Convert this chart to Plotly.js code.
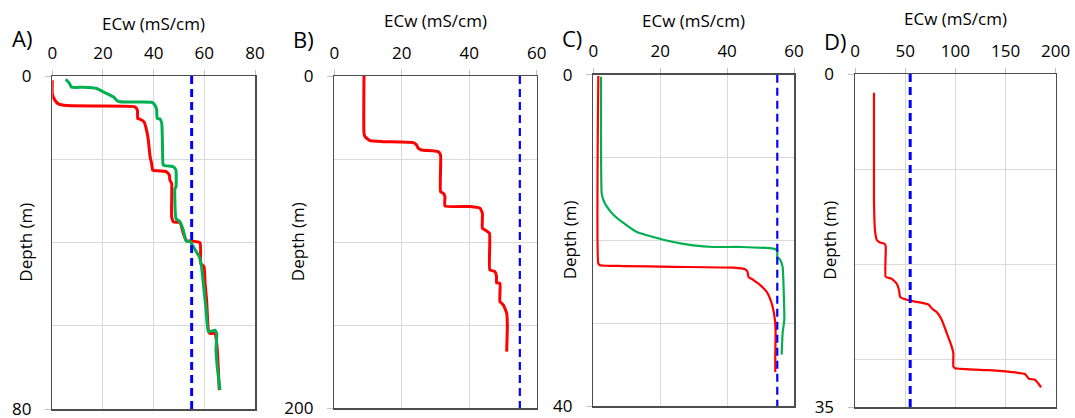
<!DOCTYPE html>
<html><head><meta charset="utf-8">
<script src="https://cdn.plot.ly/plotly-3.0.1.min.js"></script>
<style>html,body{margin:0;padding:0;background:#fff}#chart{width:1075px;height:418px}</style>
</head><body><div id="chart"></div><script>
// ---- data ----
const panelLabels = ['A)', 'B)', 'C)', 'D)'];
const xTitle = 'ECw (mS/cm)';
const yTitle = 'Depth (m)';
const xMax = [80, 60, 60, 200];
const xStep = [20, 20, 20, 50];
const yMax = [80, 200, 40, 35];
const yStep = [20, 50, 10, 10];
const threshold = 55;

const ecA_red  = [0, 0, 1, 2.4, 5.7, 18.8, 32.6, 33.6, 33.7, 34.3, 36.2, 37.2, 37.9, 38.6, 39.2, 39.6, 40, 45.1, 46.2, 46.4, 47.1, 47.1, 47.8, 50.4, 51.7, 53, 54.5, 58.3, 58.6, 59.9, 60.3, 60.9, 61.6, 62.2, 64.2, 64.9, 65.5, 65.9];
const depA_red = [1, 4.2, 5.8, 6.7, 7.1, 7.2, 7.4, 8.2, 10.2, 10.3, 11, 13, 15.4, 19.4, 21, 22.6, 22.7, 23, 23.8, 25, 25.8, 33.8, 35, 35.2, 37.8, 39.6, 39.6, 40, 45, 45.8, 49.8, 53.8, 61, 61.8, 61.8, 64.2, 69.8, 75.4];
const ecA_green  = [5.3, 6.8, 7.6, 12.2, 17.5, 20.1, 24.1, 25.4, 26.7, 39.2, 40.5, 41.2, 41.4, 42.5, 43.2, 43.6, 43.8, 47.8, 48.8, 48.8, 48.4, 48.8, 50.4, 51.7, 52.8, 54.5, 55.7, 58, 58.9, 59.6, 60.7, 61.6, 64.2, 64.9, 64.6, 65.1, 66.2];
const depA_green = [0.8, 1.8, 2.7, 2.7, 3, 3.8, 5, 5.8, 6.2, 6.3, 7, 8.2, 10.2, 10.3, 11.4, 20.2, 21.4, 21.8, 22.6, 26.6, 27, 34.2, 35, 37, 39.6, 39.8, 41, 43.4, 45.8, 49.8, 56.2, 61.4, 61, 61.8, 65.8, 69.8, 75.4];

const ecB_red  = [8.8, 8.8, 9.1, 10.6, 14.5, 23.4, 24.4, 24.9, 25.9, 30.8, 31.5, 31.5, 32.3, 32.8, 32.8, 40.2, 43.2, 43.9, 43.9, 44.7, 46, 46.1, 47.6, 48.1, 48.1, 49.1, 49.1, 50.1, 51.1, 51.3, 51.1];
const depB_red = [0, 34.5, 36.5, 38.9, 39.5, 40.1, 41.5, 43.5, 44.5, 45.5, 47.5, 69.6, 70.6, 72.6, 78.2, 78.6, 79.6, 82.6, 91.7, 92.7, 94.7, 116.7, 117.7, 120.8, 124.4, 124.8, 135.8, 137.8, 142.8, 150.8, 165.9];

const ecC_red  = [1.5, 1.5, 2, 9, 23.9, 41.9, 45.4, 46.1, 46.4, 47.9, 49.9, 51.8, 52.8, 53.6, 54.3, 54.5, 54.4, 54.4];
const depC_red = [0.16, 22.8, 23, 23.1, 23.2, 23.3, 23.5, 23.8, 24.4, 24.8, 25.4, 26.2, 27, 28, 29.6, 31.2, 34, 35.9];
const ecC_green  = [2.3, 2.5, 3, 4, 6, 9, 13, 17.9, 23.9, 29.9, 35.9, 43.9, 53.8, 55, 55, 55.8, 56.6, 57, 57.1, 56.6, 56.3];
const depC_green = [0.24, 14.3, 15.1, 15.9, 16.9, 17.9, 19, 19.6, 20.2, 20.6, 20.8, 20.8, 21, 21.2, 22, 22.3, 23.2, 27.2, 29.6, 31.2, 33.8];

const ecD_red  = [18.9, 18.9, 19.9, 21.6, 24.9, 29.2, 30.6, 30.6, 36.5, 41.5, 43.9, 44.9, 48.2, 59.8, 73.1, 76.4, 81.4, 86.4, 91.4, 96.3, 98, 98, 99.7, 132.9, 156.1, 169.4, 173.4, 179.4, 182.7, 185.4];
const depD_red = [1.96, 13.2, 16.4, 17.4, 17.7, 17.8, 18.1, 21.3, 21.5, 22, 22.7, 23.4, 23.6, 23.9, 24.2, 24.6, 25, 25.8, 27.2, 28.6, 29.3, 30.7, 30.9, 31.1, 31.3, 31.5, 32, 32.1, 32.5, 32.9];

// ---- layout geometry (pixels) ----
const W = 1075, H = 418;
const box = [ // left, right, top, bottom
  [52.3, 255, 76, 409.3],
  [334.3, 536.7, 76, 408.3],
  [593.3, 794, 74.7, 406],
  [855, 1055.7, 74, 407.3]
];
const labelPos = [[22, 38], [303, 39], [572, 38], [835, 41]];
const xTitlePos = [23, 21, 21, 19];
const yTitleX = [26, 297, 569, 830];

const RED = '#ff0000', GREEN = '#00b050', BLUE = '#0000ff';
const lw = [3, 3, 2.2, 2.2];
const dw = [3, 2.2, 2.2, 3];

const series = [
  [[ecA_red, depA_red, RED], [ecA_green, depA_green, GREEN]],
  [[ecB_red, depB_red, RED]],
  [[ecC_green, depC_green, GREEN], [ecC_red, depC_red, RED]],
  [[ecD_red, depD_red, RED]]
];

const traces = [];
const F = 'Open Sans, sans-serif';
const layout = {
  width: W, height: H,
  margin: {l: 0, r: 0, t: 0, b: 0},
  paper_bgcolor: '#fff', plot_bgcolor: '#fff',
  showlegend: false,
  font: {family: F, color: '#000'},
  annotations: []
};

for (let i = 0; i < 4; i++) {
  const s = i === 0 ? '' : String(i + 1);
  const [l, r, t, b] = box[i];
  series[i].forEach(([x, y, c]) => {
    traces.push({x: x, y: y, xaxis: 'x' + s, yaxis: 'y' + s, type: 'scatter', mode: 'lines',
      line: {color: c, width: lw[i], shape: 'spline', smoothing: 0.4}, hoverinfo: 'skip'});
  });
  traces.push({x: [threshold, threshold], y: [0, yMax[i]], xaxis: 'x' + s, yaxis: 'y' + s,
    type: 'scatter', mode: 'lines', line: {color: BLUE, width: dw[i], dash: '8px,5px'}, hoverinfo: 'skip'});

  layout['xaxis' + s] = {
    domain: [l / W, r / W], anchor: 'y' + s, side: 'top',
    range: [0, xMax[i]], tick0: 0, dtick: xStep[i],
    showgrid: true, gridcolor: '#d9d9d9', gridwidth: 1,
    showline: true, mirror: true, linecolor: '#4d4d4d', linewidth: 1.5,
    ticks: 'outside', ticklen: 5, tickcolor: '#bfbfbf',
    ticklabelstandoff: 4, ticklabeloverflow: 'allow',
    tickfont: {family: F, size: 17, color: '#000'}, zeroline: false, fixedrange: true
  };
  layout['yaxis' + s] = {
    domain: [1 - b / H, 1 - t / H], anchor: 'x' + s,
    range: [yMax[i], 0], tick0: 0, dtick: yMax[i],
    showgrid: false,
    minor: {dtick: yStep[i], tick0: 0, showgrid: true, gridcolor: '#d9d9d9', gridwidth: 1, ticks: ''},
    showline: true, mirror: true, linecolor: '#4d4d4d', linewidth: 1.5,
    ticks: 'outside', ticklen: 6, tickcolor: '#bfbfbf',
    ticklabelstandoff: 10, ticklabeloverflow: 'allow',
    tickfont: {family: F, size: 17, color: '#000'}, zeroline: false, fixedrange: true
  };
  layout.annotations.push({
    text: panelLabels[i], xref: 'paper', yref: 'paper',
    x: labelPos[i][0] / W, y: 1 - labelPos[i][1] / H, xanchor: 'center', yanchor: 'middle',
    showarrow: false, font: {family: F, size: 22, color: '#000'}
  });
  layout.annotations.push({
    text: xTitle, xref: 'paper', yref: 'paper',
    x: ((l + r) / 2) / W, y: 1 - xTitlePos[i] / H, xanchor: 'center', yanchor: 'middle',
    showarrow: false, font: {family: F, size: 17, color: '#000'}
  });
  layout.annotations.push({
    text: yTitle, xref: 'paper', yref: 'paper', textangle: -90,
    x: yTitleX[i] / W, y: 1 - ((t + b) / 2) / H, xanchor: 'center', yanchor: 'middle',
    showarrow: false, font: {family: F, size: 17, color: '#000'}
  });
}

Plotly.newPlot('chart', traces, layout, {staticPlot: true, displayModeBar: false});
</script></body></html>
